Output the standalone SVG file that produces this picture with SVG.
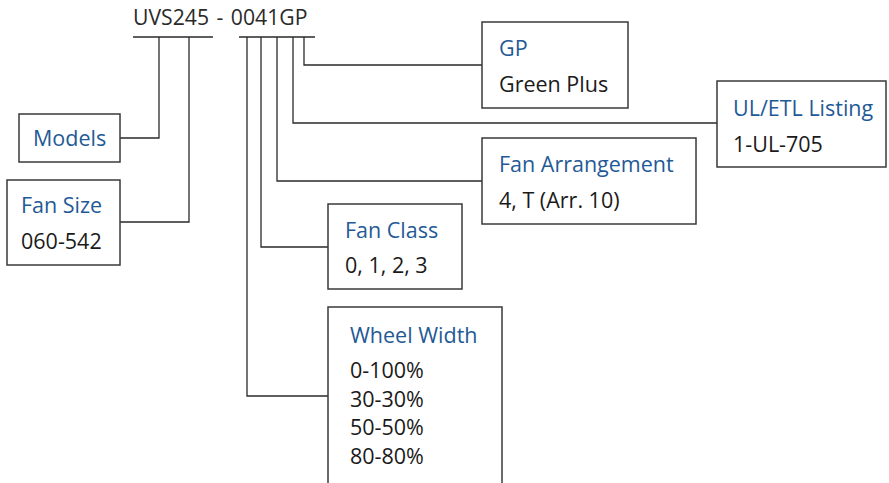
<svg xmlns="http://www.w3.org/2000/svg" width="889" height="483" viewBox="0 0 889 483">
<style>
.box{fill:#fff;stroke:#3a3a3a;stroke-width:1.5}
.ln{fill:none;stroke:#2a2a2a;stroke-width:1.3}
.t{font-family:"Open Sans","Noto Sans","Liberation Sans",sans-serif;font-size:21.5px;fill:#1a1a1a}
.h{font-family:"Open Sans","Noto Sans","Liberation Sans",sans-serif;font-size:21.5px;fill:#1f5a96}
.title{font-family:"Open Sans","Noto Sans","Liberation Sans",sans-serif;font-size:21.2px;fill:#2a2a2a;word-spacing:2px}
</style>
<rect width="889" height="483" fill="#fff"/>
<g id="title">
<text class="title" x="133" y="25">UVS245 - 0041GP</text>
</g>
<g id="connectors">
<path class="ln" d="M133 37H213M239 37H315"/>
<path class="ln" d="M159 37V138H120"/>
<path class="ln" d="M189 37V222H120"/>
<path class="ln" d="M304 37V65H482"/>
<path class="ln" d="M293 37V123H717"/>
<path class="ln" d="M277 37V181H482"/>
<path class="ln" d="M261 37V247H328"/>
<path class="ln" d="M247 37V396H328"/>
</g>
<g id="models">
<rect class="box" x="19" y="114" width="101" height="48"/>
<text class="h" x="33" y="146">Models</text>
</g>
<g id="fan-size">
<rect class="box" x="7" y="180" width="113" height="85"/>
<text class="h" x="21" y="213">Fan Size</text>
<text class="t" x="21" y="249">060-542</text>
</g>
<g id="gp">
<rect class="box" x="482" y="22" width="146" height="86"/>
<text class="h" x="499" y="56">GP</text>
<text class="t" x="499" y="92">Green Plus</text>
</g>
<g id="ul-etl">
<rect class="box" x="717" y="81" width="169" height="86"/>
<text class="h" x="733" y="116">UL/ETL Listing</text>
<text class="t" x="733" y="152">1-UL-705</text>
</g>
<g id="fan-arrangement">
<rect class="box" x="482" y="138" width="214" height="86"/>
<text class="h" x="499" y="172">Fan Arrangement</text>
<text class="t" x="499" y="208">4, T (Arr. 10)</text>
</g>
<g id="fan-class">
<rect class="box" x="328" y="204" width="134" height="85"/>
<text class="h" x="345" y="238">Fan Class</text>
<text class="t" x="345" y="273">0, 1, 2, 3</text>
</g>
<g id="wheel-width">
<rect class="box" x="328" y="307" width="174" height="190"/>
<text class="h" x="350" y="343">Wheel Width</text>
<text class="t" x="350" y="378">0-100%</text>
<text class="t" x="350" y="407">30-30%</text>
<text class="t" x="350" y="435">50-50%</text>
<text class="t" x="350" y="464">80-80%</text>
</g>
</svg>
